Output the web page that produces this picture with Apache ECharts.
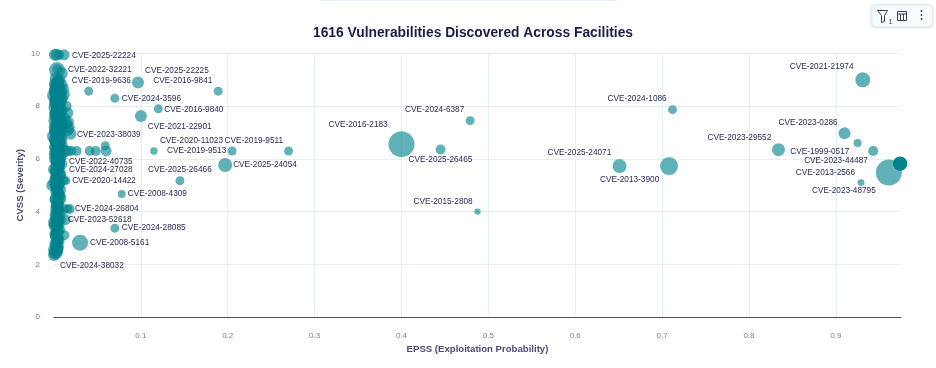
<!DOCTYPE html>
<html>
<head>
<meta charset="utf-8">
<style>html,body{margin:0;padding:0;background:#fff}#c{width:936px;height:368px}</style>
<script src="https://cdn.jsdelivr.net/npm/echarts@6/dist/echarts.min.js"></script>
</head>
<body>
<div id="c"></div>
<script>
const chartTitle = '1616 Vulnerabilities Discovered Across Facilities';
const xAxisName = 'EPSS (Exploitation Probability)';
const yAxisName = 'CVSS (Severity)';

// Labelled vulnerabilities
const cveNames = ['CVE-2025-22224','CVE-2022-32221','CVE-2025-22225','CVE-2019-9636','CVE-2016-9841','CVE-2024-3596','CVE-2016-9840','CVE-2021-22901','CVE-2023-38039','CVE-2020-11023','CVE-2019-9511','CVE-2019-9513','CVE-2022-40735','CVE-2024-27028','CVE-2025-24054','CVE-2025-26466','CVE-2020-14422','CVE-2008-4309','CVE-2024-26804','CVE-2023-52618','CVE-2024-28085','CVE-2008-5161','CVE-2024-38032','CVE-2016-2183','CVE-2024-6387','CVE-2025-26465','CVE-2015-2808','CVE-2025-24071','CVE-2013-3900','CVE-2024-1086','CVE-2021-21974','CVE-2023-0286','CVE-2023-29552','CVE-1999-0517','CVE-2023-44487','CVE-2013-2566','CVE-2023-48795'];
const cveEpss  = [0.0115,0.0035,0.0967,0.04,0.189,0.07,0.12,0.1,0.016,0.115,0.27,0.205,0.008,0.008,0.197,0.145,0.014,0.078,0.016,0.0045,0.07,0.03,0.0,0.4,0.479,0.445,0.4875,0.651,0.708,0.712,0.931,0.91,0.834,0.943,0.974,0.961,0.929];
const cveCvss  = [9.95,9.37,8.9,8.57,8.57,8.3,7.9,7.63,7.1,6.3,6.3,6.3,5.9,5.6,5.77,5.17,5.17,4.67,4.1,3.7,3.37,2.82,2.35,6.56,7.45,6.36,4.0,5.73,5.73,7.87,9.0,6.97,6.35,6.3,5.82,5.48,5.1];
const cveCount = [30,64,36,20,20,20,20,36,36,14,20,20,16,16,49,20,16,16,20,36,20,64,36,169,20,25,10,49,81,20,56,36,42,25,49,169,12];

// Unlabelled vulnerabilities: [epss, cvss, count]
const otherPoints = [
 [0.001,9.95,36],[0.003,9.95,36],[0.006,9.95,25],[0.004,9.4,25],[0.009,9.25,36],[0.002,9.05,36],[0.007,9.0,30],[0.005,8.95,36],
 [0.001,8.85,36],[0.009,8.8,36],[0.003,8.75,30],[0.006,8.7,36],[0.011,8.65,30],[0.002,8.6,42],[0.004,8.55,36],[0.008,8.5,36],
 [0.012,8.45,30],[0.0,8.4,49],[0.005,8.35,36],[0.003,8.3,36],[0.01,8.3,30],[0.007,8.2,36],[0.002,8.15,42],[0.006,8.1,36],
 [0.004,8.05,36],[0.014,8.0,30],[0.001,7.95,42],[0.008,7.9,36],[0.005,7.85,36],[0.003,7.8,36],[0.009,7.8,30],[0.016,7.75,30],
 [0.002,7.7,42],[0.006,7.65,36],[0.004,7.6,36],[0.012,7.55,30],[0.007,7.5,36],[0.001,7.45,42],[0.003,7.4,36],[0.016,7.4,36],
 [0.014,7.35,36],[0.005,7.3,36],[0.009,7.25,30],[0.017,7.2,36],[0.002,7.2,36],[0.006,7.15,36],[0.004,7.1,42],[0.001,7.05,36],
 [0.008,7.0,36],[0.019,6.95,36],[0.003,6.95,36],[0.006,6.9,36],[0.0,6.85,49],[0.005,6.8,36],[0.003,6.75,36],[0.008,6.7,36],
 [0.002,6.65,36],[0.006,6.6,36],[0.004,6.55,36],[0.009,6.5,36],[0.001,6.45,36],[0.007,6.4,36],[0.005,6.35,36],[0.02,6.3,25],
 [0.026,6.3,25],[0.012,6.3,36],[0.016,6.3,30],[0.003,6.25,36],[0.006,6.2,36],[0.002,6.15,36],[0.008,6.1,36],[0.004,6.05,36],
 [0.001,6.0,36],[0.006,5.9,36],[0.003,5.85,36],[0.009,5.8,30],[0.005,5.7,36],[0.0,5.6,36],[0.002,5.5,36],[0.007,5.4,36],
 [0.004,5.3,30],[0.01,5.2,36],[0.001,5.1,42],[0.005,5.0,36],[0.003,4.95,36],[0.007,4.85,36],[-0.002,5.0,36],[0.002,4.75,30],
 [0.006,4.65,30],[0.004,4.55,30],[0.001,4.45,30],[0.008,4.5,30],[0.003,4.35,30],[0.005,4.25,30],[0.002,4.15,30],[0.011,4.1,30],
 [0.018,4.1,25],[0.006,4.05,30],[0.003,3.95,30],[0.001,3.85,30],[0.005,3.8,30],[0.008,3.7,25],[0.013,3.7,30],[0.004,3.6,30],
 [0.002,3.55,42],[0.006,3.5,30],[0.0,3.45,30],[0.003,3.35,30],[0.005,3.25,30],[0.001,3.15,30],[0.012,3.1,25],[0.002,3.05,30],
 [0.004,2.95,30],[0.006,2.9,30],[0.001,2.8,30],[0.003,2.75,30],[0.005,2.7,30],[0.002,2.65,30],[0.004,2.6,30],[0.0,2.55,36],
 [0.003,2.5,36],[0.002,2.45,49],[0.001,2.4,25],[0.004,2.6,20],[0.0,3.6,36],[0.003,4.9,30],[0.002,5.3,30],
 [0.041,6.3,25],[0.048,6.3,25],[0.06,6.3,30],[0.059,6.5,20],[0.925,6.6,16],[0.002,8.6,36],[0.005,7.6,36],
 [0.974,5.82,49],[0.974,5.82,49],[0.974,5.82,49],[0.974,5.82,49]
];

// Further low-EPSS findings that pile up into the solid column
const coreEpss = [0.004,0.003,0.005,0.002,0.006,0.004,0.003,0.007,0.002,0.005,0.004,0.006,0.002,0.003,0.007,0.005,0.004,0.002,0.006,0.003,0.005,0.007,0.002,0.004,0.006,0.003,0.005,0.002,0.007,0.004,0.003,0.006,0.005,0.002,0.004,0.007,0.003,0.005,0.006,0.002,0.004,0.003,0.005,0.007,0.002,0.006,0.004,0.003,0.005,0.002,0.006,0.004,0.003,0.005,0.002,0.004,0.006,0.003,0.002,0.005,0.004,0.003,0.002,0.005,0.003,0.004,0.002,0.003,0.005,0.002,0.004,0.003,0.002,0.004,0.003,0.002,0.003,0.004,0.002,0.003];
const coreCvss = [8.9,8.8,8.7,8.6,8.5,8.4,8.3,8.2,8.1,8.0,7.9,7.8,7.7,7.6,7.5,7.4,7.3,7.2,7.1,7.0,6.9,6.8,6.7,6.6,6.5,6.4,6.3,6.2,6.1,6.0,5.9,5.8,5.7,5.6,5.5,5.4,5.3,5.2,5.1,5.0,4.9,4.8,4.7,4.6,4.5,4.4,4.3,4.2,4.1,4.0,3.9,3.8,3.7,3.6,3.5,3.4,3.3,3.2,3.1,3.0,2.9,2.8,2.7,2.6,2.5,8.75,8.25,7.75,7.25,6.75,6.25,5.75,5.25,4.75,4.25,3.75,3.25,2.85,8.45,6.95];
const coreCount = [42,49,42,49,42,49,42,49,42,49,42,49,42,49,42,49,42,49,42,49,42,49,42,49,42,49,42,49,42,49,36,36,36,36,36,36,36,36,36,36,36,30,36,30,36,30,36,30,36,30,36,30,36,30,36,30,36,30,36,30,36,30,36,30,36,42,42,42,42,42,42,36,36,30,30,30,30,30,42,42];

// Label placement: [dx, dy] from the bubble centre to the label's left-middle
const labelOffsets = {'CVE-2025-22224':[8,1],'CVE-2022-32221':[11,0],'CVE-2025-22225':[7,-12],'CVE-2019-9636':[-17,-10],'CVE-2016-9841':[-65,-10],'CVE-2024-3596':[7,0],'CVE-2016-9840':[6,1],'CVE-2021-22901':[7,11],'CVE-2023-38039':[9,5],'CVE-2020-11023':[6,-10],'CVE-2019-9511':[-64,-10],'CVE-2019-9513':[-65,0],'CVE-2022-40735':[8,0],'CVE-2024-27028':[8,0],'CVE-2025-24054':[8,0],'CVE-2025-26466':[-32,-11],'CVE-2020-14422':[6,0],'CVE-2008-4309':[6,0],'CVE-2024-26804':[7,0],'CVE-2023-52618':[10,0],'CVE-2024-28085':[7,0],'CVE-2008-5161':[10,0],'CVE-2024-38032':[6,11],'CVE-2016-2183':[-73,-19],'CVE-2024-6387':[-65,-11],'CVE-2025-26465':[-32,10],'CVE-2015-2808':[-64,-10],'CVE-2025-24071':[-72,-13],'CVE-2013-3900':[-69,14],'CVE-2024-1086':[-65,-11],'CVE-2021-21974':[-73,-13],'CVE-2023-0286':[-66,-11],'CVE-2023-29552':[-71,-12],'CVE-1999-0517':[-83,1],'CVE-2023-44487':[-96,-3],'CVE-2013-2566':[-93,0],'CVE-2023-48795':[-49,8]};

const FONT = '"Liberation Sans", Arial, sans-serif';
const BUBBLE_STYLE = { color: 'rgba(0,130,140,0.62)', opacity: 1, borderWidth: 0 };
const bubbleSize = v => 2 * Math.sqrt(v[2]);

const corePoints = coreEpss.map((x, i) => [x, coreCvss[i], coreCount[i]]);
const labelled = cveNames.map((n, i) => ({
  name: n,
  value: [cveEpss[i], cveCvss[i], cveCount[i]],
  label: { show: true, position: 'inside', formatter: n, align: 'left', verticalAlign: 'middle',
           color: '#2a2a52', fontSize: 8.25, fontFamily: FONT, textBorderWidth: 0, textShadowBlur: 0 }
}));

const chart = echarts.init(document.getElementById('c'), null, { renderer: 'canvas' });
chart.setOption({
  animation: false,
  backgroundColor: '#fff',
  title: { text: chartTitle, left: 468, top: 21, textAlign: 'center',
           textStyle: { fontSize: 13.8, fontWeight: 'bold', color: '#1b1b4b', fontFamily: FONT } },
  grid: { left: 54, right: 35, top: 53.5, bottom: 51, containLabel: false },
  xAxis: {
    type: 'value', min: 0, max: 0.975, interval: 0.1,
    name: xAxisName, nameLocation: 'middle', nameGap: 27, nameMoveOverlap: false,
    nameTextStyle: { fontSize: 9.6, fontWeight: 'bold', color: '#4a4a78', fontFamily: FONT },
    axisLine: { show: true, lineStyle: { color: '#4b4b63', width: 1 } },
    axisTick: { show: false },
    axisLabel: { showMinLabel: false, showMaxLabel: false, margin: 15, fontSize: 8, color: '#7b7b96', fontFamily: FONT },
    splitLine: { show: true, showMinLine: false, showMaxLine: false, lineStyle: { color: '#e2f1f6', width: 1 } }
  },
  yAxis: {
    type: 'value', min: 0, max: 10, interval: 2,
    name: yAxisName, nameLocation: 'middle', nameGap: 29, nameRotate: 90, nameMoveOverlap: false,
    nameTextStyle: { fontSize: 9.6, fontWeight: 'bold', color: '#4a4a78', fontFamily: FONT },
    axisLine: { show: false }, axisTick: { show: false },
    axisLabel: { margin: 14, fontSize: 8, color: '#7b7b96', fontFamily: FONT },
    splitLine: { show: true, lineStyle: { color: '#e2f1f6', width: 1 } }
  },
  series: [
    { type: 'scatter', clip: false, data: otherPoints, symbolSize: bubbleSize, silent: true, itemStyle: BUBBLE_STYLE },
    { type: 'scatter', clip: false, data: corePoints, symbolSize: bubbleSize, silent: true, itemStyle: BUBBLE_STYLE },
    { type: 'scatter', clip: false, data: labelled, symbolSize: bubbleSize, itemStyle: BUBBLE_STYLE,
      labelLayout: p => { const o = labelOffsets[cveNames[p.dataIndex]]; return { dx: o[0], dy: o[1], hideOverlap: false }; } }
  ],
  graphic: [
    { type: 'rect', shape: { x: 320, y: 0, width: 296, height: 1 }, style: { fill: '#e3f2f8' } },
    { type: 'group', left: 871, top: 4, children: [
      { type: 'rect', shape: { x: 0, y: 0, width: 61, height: 22, r: 4 },
        style: { fill: '#f9fcfe', stroke: '#e4eff5', lineWidth: 1, shadowBlur: 3, shadowColor: 'rgba(120,150,170,0.25)', shadowOffsetY: 1 } },
      { type: 'polyline', shape: { points: [[6,6],[16,6],[13,11],[13,17],[10,18],[10,11],[6,6]] },
        style: { stroke: '#3c3c5c', lineWidth: 1, fill: 'none' } },
      { type: 'text', style: { x: 17, y: 14, text: '1', fontSize: 7, fill: '#3c3c5c', fontFamily: FONT } },
      { type: 'rect', shape: { x: 26, y: 7, width: 9, height: 9 }, style: { stroke: '#3c3c5c', lineWidth: 1, fill: 'none' } },
      { type: 'line', shape: { x1: 26, y1: 9.5, x2: 35, y2: 9.5 }, style: { stroke: '#3c3c5c', lineWidth: 1 } },
      { type: 'line', shape: { x1: 29, y1: 9.5, x2: 29, y2: 16 }, style: { stroke: '#3c3c5c', lineWidth: 1 } },
      { type: 'line', shape: { x1: 32, y1: 9.5, x2: 32, y2: 16 }, style: { stroke: '#3c3c5c', lineWidth: 1 } },
      { type: 'circle', shape: { cx: 50, cy: 6.5, r: 0.9 }, style: { fill: '#3c3c5c' } },
      { type: 'circle', shape: { cx: 50, cy: 10.5, r: 0.9 }, style: { fill: '#3c3c5c' } },
      { type: 'circle', shape: { cx: 50, cy: 14.5, r: 0.9 }, style: { fill: '#3c3c5c' } }
    ] }
  ]
});
</script>
</body>
</html>
